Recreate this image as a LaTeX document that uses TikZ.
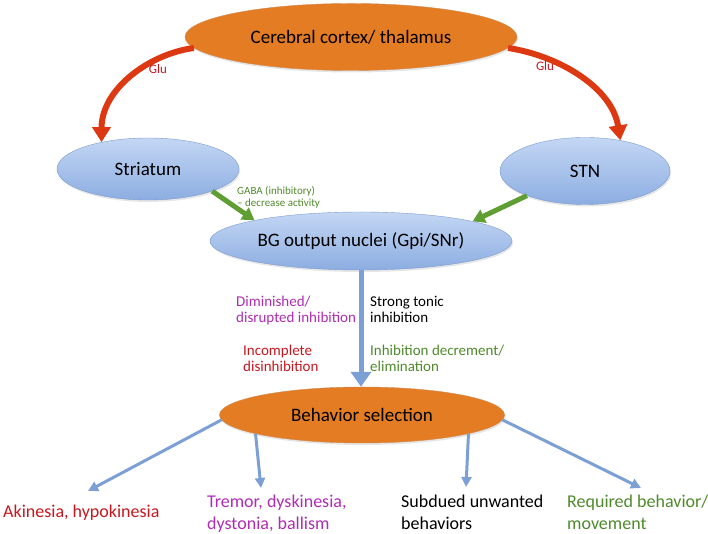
\documentclass[tikz,border=0pt]{standalone}
\usepackage{fontspec}
\setmainfont{Carlito}
\usetikzlibrary{shapes,calc,arrows.meta,positioning,shadows}

\definecolor{stageorange}{HTML}{E47C23}
\definecolor{stageedge}{HTML}{CF8A52}
\definecolor{nucleustop}{HTML}{C4D7F4}
\definecolor{nucleusbot}{HTML}{8CADE1}
\definecolor{nucleusedge}{HTML}{7B9BD0}
\definecolor{flowblue}{HTML}{7CA0D6}
\definecolor{glured}{HTML}{DC3912}
\definecolor{gabagreen}{HTML}{5E9E33}
\definecolor{txtred}{HTML}{C8161E}
\definecolor{txtpurple}{HTML}{AE2DB3}
\definecolor{txtgreen}{HTML}{4E892B}

\begin{document}
\begin{tikzpicture}[
     x=1pt,y=1pt,
     shade/.style={drop shadow={shadow xshift=1pt,shadow yshift=-2pt,opacity=0.2}},
     nucleus/.style={ellipse,draw=nucleusedge,top color=nucleustop,bottom color=nucleusbot,
       inner sep=0pt,shade,font=\fontsize{19}{22}\selectfont},
     stage/.style={ellipse,draw=stageedge,fill=stageorange,inner sep=0pt,shade,
       font=\fontsize{19}{22}\selectfont},
     glu/.style={draw=glured,line width=6pt,-{Triangle[width=18pt,length=15pt]}},
     gaba/.style={draw=gabagreen,line width=5pt,-{Triangle[width=14pt,length=12pt]}},
     flow/.style={draw=flowblue,line width=3pt,-{Triangle[width=10pt,length=10pt]}},
     note/.style={align=left,anchor=base west,inner sep=0pt,font=\fontsize{15}{16}\selectfont},
     outcome/.style={align=left,anchor=base west,inner sep=0pt,font=\fontsize{18}{22}\selectfont}]

    \useasboundingbox (0,0) rectangle (708,534);

    \node[stage, minimum width=332pt, minimum height=67pt] (cortex) at (351,497) {Cerebral cortex/ thalamus};

    \node[nucleus, minimum width=182pt, minimum height=62pt] (striatum) at (148,365) {Striatum};

    \node[nucleus, minimum width=170pt, minimum height=67pt] (stn) at (585,363) {STN};

    \node[nucleus, minimum width=302pt, minimum height=58pt] (bgout) at (361,293) {BG output nuclei (Gpi/SNr)};

    \node[stage, minimum width=285pt, minimum height=56pt] (select) at (362,119) {Behavior selection};

    % glutamate input
    \draw[glu] (cortex.184) .. controls +(-45,-6) and +(0,53) .. (striatum.150);
    \draw[glu] (cortex.-4) .. controls +(52,-8) and +(-8,52) .. (stn.41);
    \node[txtred, font=\fontsize{13}{15}\selectfont] (glul) at (158,465) {Glu};
    \node[txtred, font=\fontsize{13}{15}\selectfont] (glur) at (545,468) {Glu};

    % inhibitory input
    \draw[gaba] (striatum.-19.5) -- (bgout.169.5);
    \draw[gaba] (stn.203) -- (bgout.10.3);
    \node[note, txtgreen, font=\fontsize{11}{12.5}\selectfont] (gabalabel) at (237,327) {GABA (inhibitory)\\-- decrease activity};

    \draw[flow, line width=5pt, -{Triangle[width=20pt,length=15pt]}] (bgout.south) -- (bgout.south |- select.north);

    \node[note, txtpurple] (diminished) at (236,211) {Diminished/\\disrupted inhibition};
    \node[note] (tonic) at (370,211) {Strong tonic\\inhibition};
    \node[note, txtred] (incomplete) at (243,162) {Incomplete\\disinhibition};
    \node[note, txtgreen] (decrement) at (370,162) {Inhibition decrement/\\elimination};

    % outcomes
    \node[outcome, txtred] (akinesia) at (3,16) {Akinesia, hypokinesia};
    \node[outcome, txtpurple] (tremor) at (207,4) {Tremor, dyskinesia,\\dystonia, ballism};
    \node[outcome] (subdued) at (401,4) {Subdued unwanted\\behaviors};
    \node[outcome, txtgreen] (required) at (567,4) {Required behavior/\\movement};

    \coordinate (akitip) at (88,43);
    \coordinate (tremtip) at (261,46);
    \coordinate (subtip) at (466,47);
    \coordinate (reqtip) at (641,46);

    \draw[flow] (select.182) -- (akitip);
    \draw[flow] (select.190) -- (tremtip);
    \draw[flow] (select.-10) -- (subtip);
    \draw[flow] (select.-2) -- (reqtip);

\end{tikzpicture}
\end{document}
